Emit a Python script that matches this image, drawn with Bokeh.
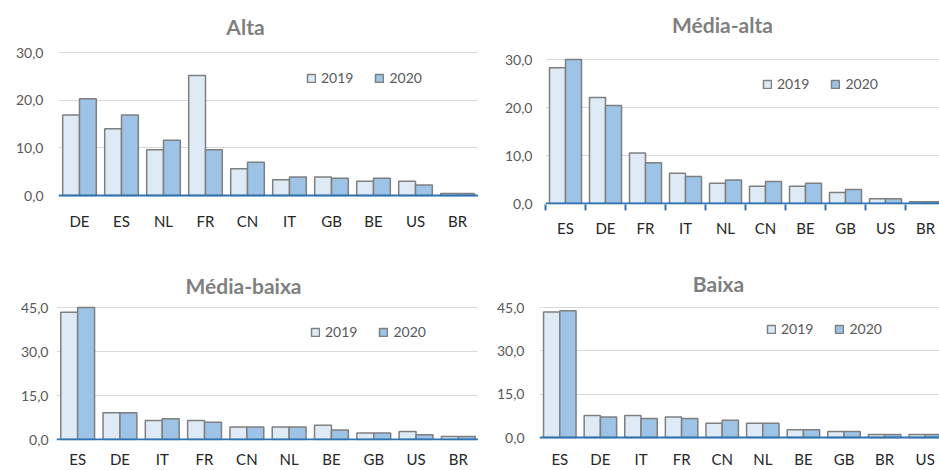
from bokeh.plotting import figure
from bokeh.models import (Range1d, FixedTicker, Legend, LegendItem,
                          ColumnDataSource, Span, Label)
from bokeh.transform import dodge
from bokeh.layouts import column, row
from bokeh.embed import file_html
from bokeh.resources import INLINE

# ---------------- data ----------------
years = ["2019", "2020"]

alta_cats = ["DE", "ES", "NL", "FR", "CN", "IT", "GB", "BE", "US", "BR"]
alta_2019 = [16.9, 14.0, 9.6, 25.2, 5.6, 3.3, 3.9, 3.0, 3.0, 0.4]
alta_2020 = [20.3, 16.9, 11.6, 9.6, 7.0, 3.9, 3.6, 3.6, 2.2, 0.4]

medalta_cats = ["ES", "DE", "FR", "IT", "NL", "CN", "BE", "GB", "US", "BR"]
medalta_2019 = [28.3, 22.1, 10.5, 6.3, 4.2, 3.6, 3.6, 2.3, 1.0, 0.35]
medalta_2020 = [30.0, 20.4, 8.5, 5.6, 4.9, 4.6, 4.2, 2.9, 1.0, 0.35]

medbaixa_cats = ["ES", "DE", "IT", "FR", "CN", "NL", "BE", "GB", "US", "BR"]
medbaixa_2019 = [43.4, 9.1, 6.5, 6.5, 4.3, 4.3, 4.9, 2.2, 2.7, 1.0]
medbaixa_2020 = [45.0, 9.1, 7.1, 5.9, 4.3, 4.3, 3.2, 2.2, 1.6, 1.0]

baixa_cats = ["ES", "DE", "IT", "FR", "CN", "NL", "BE", "GB", "BR", "US"]
baixa_2019 = [43.4, 7.6, 7.6, 7.1, 4.9, 4.9, 2.7, 2.1, 1.0, 1.0]
baixa_2020 = [43.9, 7.1, 6.6, 6.6, 6.0, 4.9, 2.7, 2.1, 1.0, 1.0]

ticks_30 = [0, 10, 20, 30]
labels_30 = ["0,0", "10,0", "20,0", "30,0"]
ticks_45 = [0, 15, 30, 45]
labels_45 = ["0,0", "15,0", "30,0", "45,0"]

# ---------------- style ----------------
FONT = "Lato"
C19 = "#DEEBF7"
C20 = "#9DC3E6"
EDGE = "#7F7F7F"
AXIS_BLUE = "#2E75B6"
TXT = "#595959"
TITLE_C = "#7F7F7F"


def make_chart(title, cats, v19, v20, yticks, ylabels, width, height,
               b_left, b_bottom, spacing, px_top, px_zero,
               legend_xy, title_xy, cat_ticks=False, xstandoff=8,
               ystandoff=15):
    # all pixel values are figure-local (0 = top/left of the figure)
    frame_w = width - b_left
    frame_bottom = height - b_bottom
    ymax = yticks[-1]
    s = (px_zero - px_top) / ymax          # pixels per unit
    y_start = -(frame_bottom - px_zero) / s
    y_end = ymax + px_top / s              # frame starts at top of figure

    src = ColumnDataSource(dict(idx=[i + 0.5 for i in range(len(cats))],
                                v19=v19, v20=v20))
    p = figure(width=width, height=height, output_backend="svg",
               toolbar_location=None, tools="", title=None,
               x_range=Range1d(0, frame_w / spacing),
               y_range=Range1d(y_start, y_end),
               min_border_left=b_left, min_border_right=0,
               min_border_top=0, min_border_bottom=b_bottom)
    p.outline_line_color = None
    p.background_fill_color = "white"
    p.border_fill_color = "white"

    r1 = p.vbar(x=dodge("idx", -0.2, range=p.x_range), top="v19", bottom=0,
                width=0.4, source=src, fill_color=C19, line_color=EDGE,
                line_width=1.5)
    r2 = p.vbar(x=dodge("idx", 0.2, range=p.x_range), top="v20", bottom=0,
                width=0.4, source=src, fill_color=C20, line_color=EDGE,
                line_width=1.5)

    p.add_layout(Span(location=0, dimension="width", line_color=AXIS_BLUE,
                      line_width=2))

    # title (drawn as a label in the empty upper part of the frame)
    tx, ty = title_xy
    p.add_layout(Label(x=(tx - b_left) / spacing, y=ymax + (px_top - ty) / s,
                       text=title, text_align="center",
                       text_baseline="middle", text_font=FONT,
                       text_font_size="21px", text_font_style="bold",
                       text_color=TITLE_C))

    # y axis
    ya = p.yaxis[0]
    ya.ticker = FixedTicker(ticks=yticks)
    ya.major_label_overrides = {t: l for t, l in zip(yticks, ylabels)}
    ya.axis_line_color = None
    ya.major_tick_line_color = None
    ya.minor_tick_line_color = None
    ya.major_tick_out = 0
    ya.minor_tick_out = 0
    ya.major_tick_in = 0
    ya.minor_tick_in = 0
    ya.major_label_standoff = ystandoff
    ya.major_label_text_font = FONT
    ya.major_label_text_font_size = "14px"
    ya.major_label_text_color = TXT

    # x axis
    xa = p.xaxis[0]
    centers = [i + 0.5 for i in range(len(cats))]
    xa.ticker = FixedTicker(ticks=centers,
                            minor_ticks=list(range(len(cats) + 1)))
    xa.major_label_overrides = {c: n for c, n in zip(centers, cats)}
    xa.axis_line_color = None
    xa.major_tick_line_color = None
    xa.major_tick_out = 0
    xa.major_tick_in = 0
    xa.minor_tick_in = 0
    if cat_ticks:
        xa.minor_tick_line_color = AXIS_BLUE
        xa.minor_tick_line_width = 2
        xa.minor_tick_out = 6
    else:
        xa.minor_tick_line_color = None
        xa.minor_tick_out = 0
    xa.major_label_standoff = xstandoff
    xa.major_label_text_font = FONT
    xa.major_label_text_font_size = "15px"
    xa.major_label_text_color = "#262626"

    p.xgrid.grid_line_color = None
    p.ygrid.grid_line_color = "#D9D9D9"
    p.ygrid.grid_line_width = 1
    p.ygrid.ticker = FixedTicker(ticks=yticks)

    legend = Legend(items=[LegendItem(label=years[0], renderers=[r1]),
                           LegendItem(label=years[1], renderers=[r2])],
                    location=legend_xy, orientation="horizontal",
                    background_fill_alpha=0, border_line_alpha=0,
                    padding=0, margin=0, spacing=21, label_standoff=5,
                    glyph_width=10, glyph_height=10,
                    label_text_font=FONT, label_text_font_size="14px",
                    label_text_color=TXT, label_height=10)
    p.add_layout(legend)
    return p


# row 1 (y 0..240): frames end at y=204 ; row 2 (y 240..470): frames end at 200
p1 = make_chart("Alta", alta_cats, alta_2019, alta_2020, ticks_30, labels_30,
                width=478, height=240, b_left=58, b_bottom=36,
                spacing=42, px_top=52, px_zero=195, legend_xy=(248, 118),
                title_xy=(245, 26), xstandoff=7, ystandoff=15)
p2 = make_chart("Média-alta", medalta_cats, medalta_2019, medalta_2020,
                ticks_30, labels_30, width=461, height=240, b_left=67,
                b_bottom=36, spacing=40, px_top=59, px_zero=203,
                legend_xy=(217, 112), title_xy=(722 - 478, 24),
                cat_ticks=True, xstandoff=8, ystandoff=13)
p3 = make_chart("Média-baixa", medbaixa_cats, medbaixa_2019, medbaixa_2020,
                ticks_45, labels_45, width=478, height=230, b_left=56,
                b_bottom=30, spacing=42.3, px_top=67, px_zero=199,
                legend_xy=(254, 100), title_xy=(243, 45),
                xstandoff=9, ystandoff=8)
p4 = make_chart("Baixa", baixa_cats, baixa_2019, baixa_2020, ticks_45,
                labels_45, width=461, height=230, b_left=61,
                b_bottom=30, spacing=40.6, px_top=67, px_zero=197,
                legend_xy=(227, 103), title_xy=(718 - 478, 43),
                xstandoff=9, ystandoff=15)

layout = column(row(p1, p2), row(p3, p4))
open("out.html", "w").write(file_html(layout, INLINE))
